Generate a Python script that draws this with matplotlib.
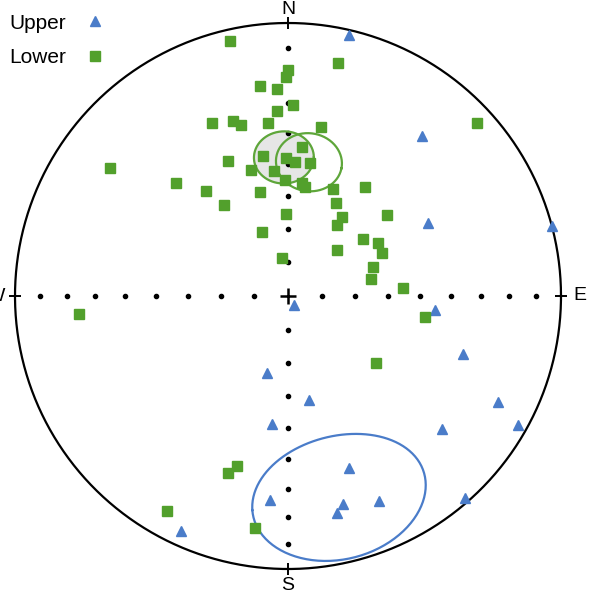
import numpy as np
import matplotlib
matplotlib.use("Agg")
import matplotlib.pyplot as plt

plt.rcParams['font.family'] = ['Liberation Sans', 'DejaVu Sans']

# point positions on the equal-area net (east, north), net radius = 1
lower_x = [-0.212, 0.183, 0.000, -0.007, -0.103, -0.040, 0.018, -0.040, -0.278, -0.201,
           -0.172, -0.073, 0.051, 0.692, 0.121, -0.652, -0.220, -0.136, -0.410, -0.300,
           -0.234, -0.103, -0.051, -0.092, -0.007, -0.095, -0.022, -0.007, 0.026, 0.081,
           -0.011, 0.051, 0.062, 0.165, 0.282, 0.176, 0.198, 0.179, 0.363, 0.275,
           0.330, 0.344, 0.179, 0.311, 0.304, 0.421, 0.502, 0.322, -0.766, -0.187,
           -0.220, -0.443, -0.121]
lower_y = [0.934, 0.853, 0.828, 0.802, 0.769, 0.758, 0.700, 0.678, 0.634, 0.641,
           0.626, 0.634, 0.546, 0.634, 0.619, 0.469, 0.495, 0.462, 0.414, 0.385,
           0.333, 0.381, 0.458, 0.513, 0.300, 0.234, 0.139, 0.505, 0.491, 0.487,
           0.425, 0.414, 0.399, 0.392, 0.399, 0.341, 0.289, 0.260, 0.297, 0.209,
           0.194, 0.158, 0.168, 0.106, 0.062, 0.029, -0.077, -0.245, -0.066, -0.623,
           -0.648, -0.788, -0.850]

upper_x = [0.223, 0.491, 0.513, 0.967, 0.022, 0.538, 0.641, 0.077, 0.769, 0.564,
           0.842, -0.077, -0.059, -0.392, -0.066, 0.223, 0.201, 0.179, 0.333, 0.648]
upper_y = [0.956, 0.586, 0.267, 0.256, -0.033, -0.051, -0.212, -0.381, -0.388, -0.487,
           -0.473, -0.282, -0.469, -0.861, -0.747, -0.630, -0.762, -0.795, -0.751, -0.740]

# confidence cones: trend, plunge, half angle (degrees)
cone_trend = [358.3, 8.9, 165.7]
cone_plunge = [47.8, 48.8, 23.4]
cone_alpha = [8.3, 9.2, 22.0]
cone_color = ['#5ea63a', '#5ea63a', '#4a7cc9']
cone_fill = ['#e6e6e6', 'none', 'none']

green = '#52a02c'
blue = '#4a7cc9'


def project(trend, plunge):
    # equal-area (Schmidt) projection, radius 1
    t = np.radians(trend)
    theta = np.radians(90 - np.asarray(plunge))
    r = np.sqrt(2) * np.sin(theta / 2)
    return r * np.sin(t), r * np.cos(t)


def small_circle(trend, plunge, alpha, n=200):
    t, p, a = np.radians(trend), np.radians(plunge), np.radians(alpha)
    c = np.array([np.cos(p) * np.sin(t), np.cos(p) * np.cos(t), np.sin(p)])
    u = np.cross(c, [0, 0, 1.0])
    u /= np.linalg.norm(u)
    w = np.cross(c, u)
    phi = np.linspace(0, 2 * np.pi, n)
    v = np.cos(a) * c[:, None] + np.sin(a) * (np.outer(u, np.cos(phi)) + np.outer(w, np.sin(phi)))
    tr = np.degrees(np.arctan2(v[0], v[1]))
    pl = np.degrees(np.arcsin(np.clip(v[2], -1, 1)))
    return project(tr, pl)


fig = plt.figure(figsize=(5.91, 5.98), dpi=100)
ax = fig.add_axes([0, 0, 1, 1])
ax.set_xlim(-288 / 273, 303 / 273)
ax.set_ylim(-302 / 273, 296 / 273)
ax.axis('off')

# primitive circle
phi = np.linspace(0, 2 * np.pi, 400)
ax.plot(np.cos(phi), np.sin(phi), color='black', lw=1.6, zorder=2)

# 10 degree ticks along the N-S and E-W axes
dips = np.arange(10, 90, 10)
for tr in [0, 90, 180, 270]:
    gx, gy = project(np.full(len(dips), tr), dips)
    ax.plot(gx, gy, 'o', color='black', ms=3.0, zorder=3)
    ex, ey = project(tr, 0)
    ax.plot(ex, ey, '+', color='black', ms=8, mew=1.4, zorder=3)
ax.plot(0, 0, '+', color='black', ms=12, mew=1.8, zorder=3)

# cones
for i in range(len(cone_trend)):
    cx, cy = small_circle(cone_trend[i], cone_plunge[i], cone_alpha[i])
    if cone_fill[i] != 'none':
        ax.fill(cx, cy, color=cone_fill[i], zorder=1)
    ax.plot(cx, cy, color=cone_color[i], lw=1.6, zorder=4)

ax.plot(upper_x, upper_y, '^', color=blue, ms=7.5, ls='none', label='Upper', zorder=5)
ax.plot(lower_x, lower_y, 's', color=green, ms=7.5, ls='none', label='Lower', zorder=5)

for lab, tr, off in zip(['N', 'E', 'S', 'W'], [0, 90, 180, 270], [1.048, 1.07, 1.06, 1.07]):
    lx, ly = project(tr, 0)
    ax.text(lx * off, ly * off, lab, ha='center', va='center', fontsize=14)

fig.legend(loc='upper left', bbox_to_anchor=(-0.007, 1.0), frameon=False, markerfirst=False,
           fontsize=15, handlelength=1.0, handletextpad=0.9, labelspacing=0.75,
           borderaxespad=0.25)

fig.savefig('out.png', dpi=100)
